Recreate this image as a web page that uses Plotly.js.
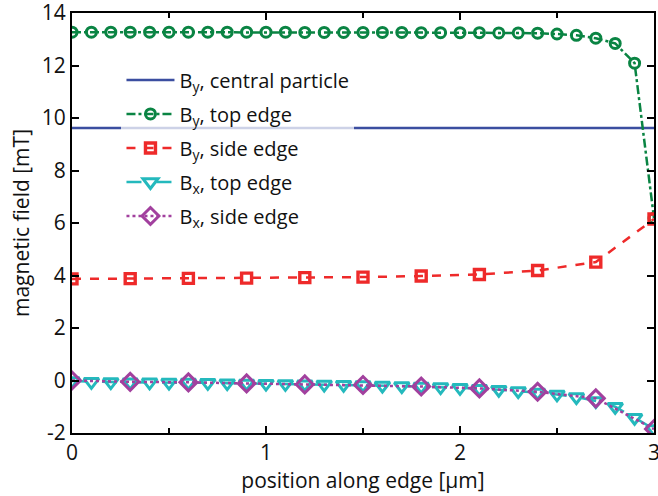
<!DOCTYPE html>
<html>
<head>
<meta charset="utf-8">
<script src="https://cdn.plot.ly/plotly-3.0.1.min.js"></script>
<style>html,body{margin:0;padding:0;background:#fff;}#chart{width:658px;height:496px;}</style>
</head>
<body>
<div id="chart"></div>
<script>
// positions along edge [µm]
const xFine = [0,0.1,0.2,0.3,0.4,0.5,0.6,0.7,0.8,0.9,1.0,1.1,1.2,1.3,1.4,1.5,1.6,1.7,1.8,1.9,2.0,2.1,2.2,2.3,2.4,2.5,2.6,2.7,2.8,2.9,3.0];
const xCoarse = [0,0.3,0.6,0.9,1.2,1.5,1.8,2.1,2.4,2.7,3.0];
const xCentral = [0,3];

// magnetic field [mT]
const byCentral = [9.62,9.62];
const byTop = [13.27,13.27,13.27,13.27,13.27,13.27,13.27,13.27,13.27,13.27,13.27,13.27,13.26,13.26,13.26,13.26,13.26,13.26,13.25,13.25,13.25,13.25,13.24,13.24,13.23,13.2,13.15,13.04,12.84,12.09,6.18];
const bySide = [3.87,3.88,3.89,3.9,3.92,3.94,3.98,4.04,4.19,4.51,6.15];
const bxTop = [-0.02,-0.05,-0.06,-0.07,-0.07,-0.08,-0.08,-0.09,-0.1,-0.11,-0.12,-0.13,-0.14,-0.15,-0.16,-0.17,-0.19,-0.21,-0.23,-0.25,-0.28,-0.31,-0.35,-0.4,-0.46,-0.53,-0.63,-0.78,-1.0,-1.42,-1.85];
const bxSide = [0,-0.05,-0.07,-0.11,-0.15,-0.17,-0.23,-0.3,-0.43,-0.68,-1.85];

const names = ['B<sub>y</sub>, central particle','B<sub>y</sub>, top edge','B<sub>y</sub>, side edge','B<sub>x</sub>, top edge','B<sub>x</sub>, side edge'];
const yTickVals = [-2,0,2,4,6,8,10,12,14];
const yTickText = ['-2','0','2','4','6','8','10','12','14'];
const xTickVals = [0,1,2,3];
const xTickText = ['0','1','2','3'];

const traces = [
  {x:xCentral,y:byCentral,name:names[0],legendgroup:'g0',mode:'lines',line:{color:'#3b4ea0',width:2.5}},
  {x:xFine,y:byTop,name:names[1],legendgroup:'g1',mode:'lines+markers',line:{color:'#0a8443',width:2.5,dash:'dashdot'},
   marker:{symbol:'circle-open',size:10,line:{color:'#0a8443',width:3}}},
  {x:xCoarse,y:bySide,name:names[2],legendgroup:'g2',mode:'lines+markers',line:{color:'#ee2a2a',width:2.5,dash:'dash'},
   marker:{symbol:'square-open',size:10,line:{color:'#ee2a2a',width:3.4}}},
  {x:xFine,y:bxTop,name:names[3],legendgroup:'g3',mode:'lines+markers',line:{color:'#24b9bd',width:2.5,dash:'longdash'},
   marker:{symbol:'triangle-down-open',size:13,line:{color:'#24b9bd',width:3}}},
  {x:xCoarse,y:bxSide,name:names[4],legendgroup:'g4',mode:'lines+markers',line:{color:'#a2409e',width:2.5,dash:'dot'},
   marker:{symbol:'diamond-open',size:13,line:{color:'#a2409e',width:3}}}
];

const fam = '"Open Sans", "Noto Sans", sans-serif';

const layout = {
  width:658, height:496,
  margin:{l:72,r:4,t:13,b:63},
  paper_bgcolor:'#fff', plot_bgcolor:'#fff',
  font:{family:fam,size:20,color:'#111'},
  showlegend:true,
  legend:{x:0.085,y:0.887,xanchor:'left',yanchor:'top',bgcolor:'rgba(255,255,255,0.75)',
          borderwidth:0,font:{family:fam,size:20,color:'#111'},tracegroupgap:5,itemwidth:48},
  xaxis:{range:[0,3],tickvals:xTickVals,ticktext:xTickText,ticks:'inside',ticklen:7,tickwidth:2,tickcolor:'#000',
         showline:true,linecolor:'#000',linewidth:2,mirror:'ticks',showgrid:false,zeroline:false,
         ticklabeloverflow:'allow',
         minor:{dtick:0.5,tick0:0,ticks:'inside',ticklen:5,tickwidth:2,tickcolor:'#000',showgrid:false},
         tickfont:{size:21},
         title:{text:'position along edge [μm]',font:{size:21},standoff:4}},
  yaxis:{range:[-2,14],tickvals:yTickVals,ticktext:yTickText,ticks:'inside',ticklen:7,tickwidth:2,tickcolor:'#000',
         showline:true,linecolor:'#000',linewidth:2,mirror:'ticks',showgrid:false,zeroline:false,
         ticklabeloverflow:'allow',
         tickfont:{size:21},
         title:{text:'magnetic field [mT]',font:{size:21},standoff:6}}
};

Plotly.newPlot('chart',traces,layout,{displayModeBar:false,staticPlot:true});
</script>
</body>
</html>
